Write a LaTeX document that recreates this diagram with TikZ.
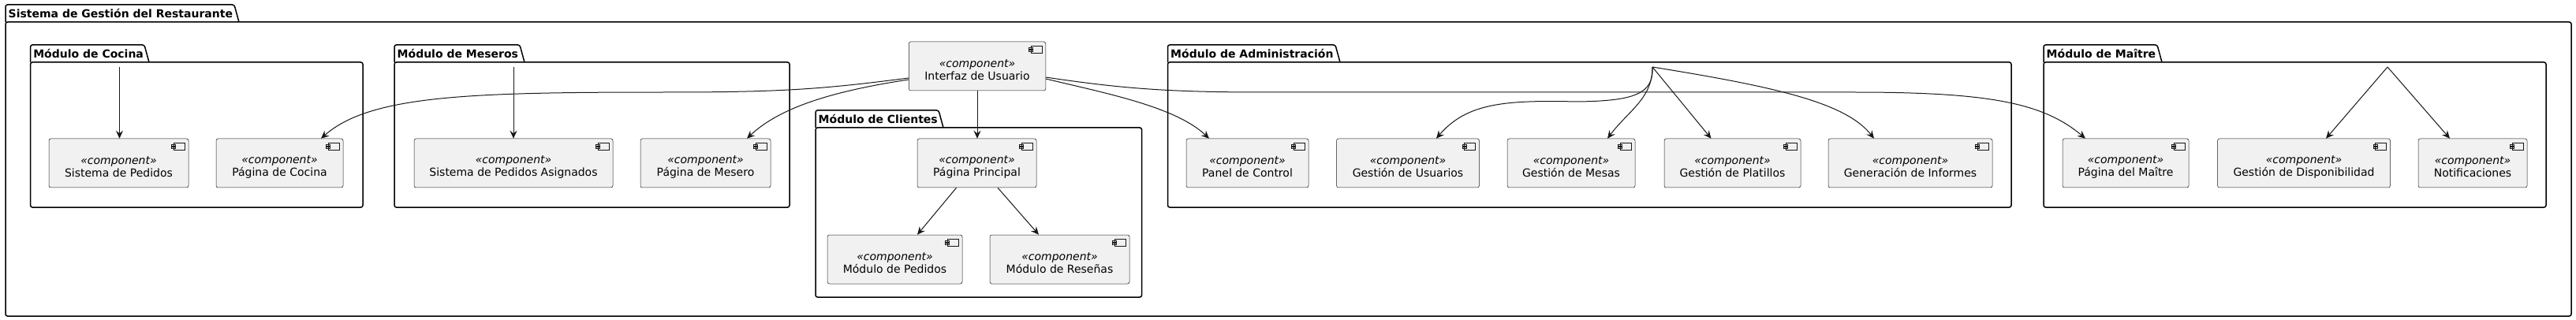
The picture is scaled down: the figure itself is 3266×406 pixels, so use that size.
\documentclass[tikz,border=0pt]{standalone}
\usepackage{fontspec}
\setmainfont{DejaVu Sans}
\usetikzlibrary{arrows.meta}
\definecolor{boxfill}{HTML}{F1F1F1}
\definecolor{umlline}{HTML}{181818}
\tikzset{
  comp/.style={draw=umlline, line width=0.5pt, fill=boxfill, rounded corners=2.5pt,
    minimum height=62pt, inner sep=0pt,
    path picture={
      \draw[umlline, line width=0.5pt, sharp corners, fill=boxfill]
        ([shift={(-19pt,-5pt)}]path picture bounding box.north east) rectangle ++(14pt,-9pt)
        ([shift={(-21.5pt,-7pt)}]path picture bounding box.north east) rectangle ++(5pt,-2pt)
        ([shift={(-21.5pt,-10.5pt)}]path picture bounding box.north east) rectangle ++(5pt,-2pt);
    }},
  comptext/.style={align=center, inner sep=0pt, font=\fontsize{14}{16}\selectfont},
  pkg/.style={draw=black, line width=1.5pt, rounded corners=2.5pt},
  pkgtitle/.style={anchor=west, inner sep=0pt, font=\fontsize{14}{16}\selectfont\bfseries},
  arr/.style={draw=umlline, line width=1pt, -{Stealth[length=10pt,width=9pt,inset=3.5pt]}},
}
\begin{document}
\begin{tikzpicture}[x=1pt, y=-1pt]
\fill[white] (0,0) rectangle (3266,406);
\useasboundingbox (0,0) rectangle (3266,406);

% packages
\foreach \n/\l/\tr/\tt/\bt/\r/\b/\t in {
    sistema/7/303/6/28/3260/401/Sistema de Gestión del Restaurante,
    cocina/38.6/189/57/79/460/263/Módulo de Cocina,
    meseros/500/665/57/79/1001/263/Módulo de Meseros,
    clientes/1034/1196/140/162/1447.6/377/Módulo de Clientes,
    admin/1480.5/1699/57/79/2550/263/Módulo de Administración,
    maitre/2591/2741/57/79/3228/263/Módulo de Maître}{
  \draw[pkg] (\l,\bt) -- (\l,\tt) -- (\tr-6,\tt) -- (\tr,\bt);
  \draw[pkg] (\l,\bt) rectangle (\r,\b);
  \node[pkgtitle] (\n-title) at (\l+3.5,{(\tt+\bt)/2}) {\t};
}

% components
\foreach \n/\x/\y/\w/\t in {
    sisped/150.5/207/177/Sistema de Pedidos,
    pagcoc/354.5/207/161/Página de Cocina,
    sispedas/651/207/252/Sistema de Pedidos Asignados,
    pagmes/894.5/207/165/Página de Mesero,
    ui/1239/84/173.5/Interfaz de Usuario,
    pagpri/1238.5/207/151/Página Principal,
    modped/1134.5/329/171/Módulo de Pedidos,
    modres/1343.5/329/177/Módulo de Reseñas,
    panel/1581.5/207/155/Panel de Control,
    gesusu/1785/207/181/Gestión de Usuarios,
    gesmes/1992/207/162/Gestión de Mesas,
    gespla/2196.5/207/173/Gestión de Platillos,
    geninf/2422/207/208/Generación de Informes,
    pagmai/2695/207/160/Página del Maître,
    gesdis/2921/207/219/Gestión de Disponibilidad,
    notif/3135/207/138/Notificaciones}{
  \node[comp, minimum width=\w pt] (\n) at (\x,\y) {};
  \node[comptext] (\n-text) at ([yshift=-5pt]\n.center) {\textit{«component»}\\\t};
}

% package entry points
\coordinate (cochub) at (151.5,85);
\coordinate (meshub) at (651,85);
\coordinate (admhub) at (2095,85);
\coordinate (maihub) at (3027,85);

% connectors
\draw[arr] (cochub) -- (cochub |- sisped.north);
\draw[arr] (meshub) -- (meshub |- sispedas.north);
\draw[arr] (ui.south) -- (ui.south |- pagpri.north);
\draw[arr] ([xshift=-26pt]pagpri.south) -- ([xshift=28.5pt]modped.north);
\draw[arr] ([xshift=26.5pt]pagpri.south) -- ([xshift=-26.5pt]modres.north);
\draw[arr] ([yshift=-15pt]ui.west) .. controls (1050,112) and (1000,117) .. (850,117)
  .. controls (600,117) and (470,120) .. ([xshift=52.5pt]pagcoc.north);
\draw[arr] ([yshift=-17pt]ui.west) .. controls (1060,115) and (990,135) .. ([xshift=52.5pt]pagmes.north);
\draw[arr] ([yshift=-16pt]ui.east) .. controls (1400,118) and (1490,135) .. ([xshift=-48.5pt]panel.north);
\draw[arr] ([yshift=-14pt]ui.east) .. controls (1420,112) and (1480,117) .. (1600,117) -- (2350,117)
  .. controls (2520,117) and (2590,130) .. ([xshift=-51pt]pagmai.north);
\draw[arr] (admhub) .. controls (2097,120) and (2070,128) .. (2000,129)
  .. controls (1910,127) and (1860,130) .. ([xshift=36pt]gesusu.north);
\draw[arr] (admhub) .. controls (2095,125) and (2065,140) .. ([xshift=46pt]gesmes.north);
\draw[arr] (admhub) -- ([xshift=-27pt]gespla.north);
\draw[arr] (admhub) .. controls (2250,110) and (2340,130) .. ([xshift=-46pt]geninf.north);
\draw[arr] (maihub) -- ([xshift=28pt]gesdis.north);
\draw[arr] (maihub) -- ([xshift=-29pt]notif.north);
\end{tikzpicture}
\end{document}
